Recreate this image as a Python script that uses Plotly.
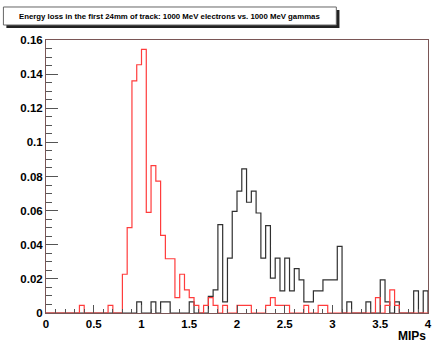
import numpy as np
import plotly.graph_objects as go

# ---- data ----
x_min, x_max, n_bins = 0.0, 4.0, 80
bin_lows = list(np.linspace(x_min, x_max, n_bins + 1)[:-1])

electrons = [
    0, 0, 0, 0, 0, 0, 0, 0.0045, 0, 0,            # 0.00-0.45
    0, 0, 0, 0.0045, 0, 0, 0.0227, 0.05, 0.136, 0.1455,   # 0.50-0.95
    0.1545, 0.059, 0.0864, 0.0773, 0.0455, 0.0318, 0.0318, 0.009, 0.0227, 0.0136,  # 1.00-1.45
    0.009, 0.0045, 0, 0.0045, 0.009, 0.0045, 0, 0.0045, 0, 0,   # 1.50-1.95
    0.0045, 0.0045, 0.0045, 0, 0, 0, 0.0045, 0.009, 0.0045, 0.0045,  # 2.00-2.45
    0.0045, 0, 0, 0, 0.0045, 0, 0, 0.0045, 0.0045, 0,   # 2.50-2.95
    0, 0, 0, 0, 0, 0, 0, 0, 0, 0.009,               # 3.00-3.45
    0, 0.0045, 0.0136, 0.0045, 0, 0, 0, 0, 0, 0,    # 3.50-3.95
]
gammas = [
    0, 0, 0, 0, 0, 0, 0, 0, 0, 0,
    0, 0, 0, 0, 0, 0, 0, 0, 0, 0.0065,
    0, 0, 0.0065, 0, 0.0065, 0.0065, 0, 0, 0, 0,
    0.0065, 0, 0, 0, 0.0097, 0.0135, 0.0518, 0.0065, 0.0322, 0.0596,
    0.0714, 0.0845, 0.0649, 0.0714, 0.0586, 0.0322, 0.0512, 0.0204, 0.0322, 0.013,
    0.0322, 0.013, 0.026, 0.0194, 0.0065, 0.0065, 0.013, 0.013, 0.0194, 0.0194,
    0.0194, 0.039, 0, 0.0065, 0, 0, 0, 0.0065, 0, 0,
    0.0194, 0.0065, 0, 0.0065, 0, 0, 0, 0.013, 0, 0.013,
]
x_tickvals = [0, 0.5, 1, 1.5, 2, 2.5, 3, 3.5, 4]
x_ticktext = ["0", "0.5", "1", "1.5", "2", "2.5", "3", "3.5", "4"]
y_tickvals = [0, 0.02, 0.04, 0.06, 0.08, 0.1, 0.12, 0.14, 0.16]
y_ticktext = ["0", "0.02", "0.04", "0.06", "0.08", "0.1", "0.12", "0.14", "0.16"]
title_text = "Energy loss in the first 24mm of track: 1000 MeV electrons vs. 1000 MeV gammas"
x_title = "MIPs"


def step_xy(vals):
    xs = [x_min] + bin_lows + [x_max, x_max]
    ys = [0] + list(vals) + [vals[-1], 0]
    return xs, ys


fig = go.Figure()
gx, gy = step_xy(gammas)
fig.add_trace(go.Scatter(x=gx, y=gy, mode="lines", line=dict(shape="hv", color="#303030", width=1.2),
                         hoverinfo="skip", showlegend=False))
ex, ey = step_xy(electrons)
fig.add_trace(go.Scatter(x=ex, y=ey, mode="lines", line=dict(shape="hv", color="#ff3c3c", width=1.2),
                         hoverinfo="skip", showlegend=False))

FONT = "Liberation Sans, Arial, sans-serif"
frame_col = "#7a5656"
tick_col = "#555555"

fig.update_layout(
    width=436, height=346,
    margin=dict(l=46, r=8, t=40, b=33),
    paper_bgcolor="white", plot_bgcolor="white",
    xaxis=dict(range=[x_min, x_max], tickmode="array", tickvals=x_tickvals, ticktext=x_ticktext,
               ticks="inside", ticklen=8, tickwidth=1, tickcolor=tick_col, automargin=False,
               minor=dict(ticks="inside", ticklen=4, tickwidth=1, tickcolor=tick_col, tick0=0, dtick=0.1),
               showgrid=False, zeroline=False, showline=True, linecolor=frame_col, linewidth=1, mirror=True,
               tickfont=dict(family=FONT, size=11.5, color="black", weight="bold")),
    yaxis=dict(range=[0, 0.16], tickmode="array", tickvals=y_tickvals, ticktext=y_ticktext,
               ticks="inside", ticklen=12, tickwidth=1, tickcolor=tick_col, automargin=False,
               minor=dict(ticks="inside", ticklen=6, tickwidth=1, tickcolor=tick_col, tick0=0, dtick=0.005),
               showgrid=False, zeroline=False, showline=True, linecolor=frame_col, linewidth=1, mirror=True,
               tickfont=dict(family=FONT, size=11.5, color="black", weight="bold")),
)

# title pave with shadow
fig.add_shape(type="rect", xref="paper", yref="paper", x0=-0.1037, x1=0.7682, y0=1.044, y1=1.1099,
              line=dict(width=0), fillcolor="#222222", layer="above")
fig.add_shape(type="rect", xref="paper", yref="paper", x0=-0.1115, x1=0.760, y0=1.0549, y1=1.1209,
              line=dict(width=1, color="#666666"), fillcolor="white", layer="above")
fig.add_annotation(text=title_text, xref="paper", yref="paper", x=0.3241, y=1.0879,
                   xanchor="center", yanchor="middle", showarrow=False,
                   font=dict(family=FONT, size=7.8, color="black", weight="bold"))
fig.add_annotation(text=x_title, xref="paper", yref="paper", x=1.0, y=-0.084,
                   xanchor="right", yanchor="middle", showarrow=False,
                   font=dict(family=FONT, size=12, color="black", weight="bold"))

fig.write_html("out.html", config={"displayModeBar": False},
               post_script="document.body.style.margin='0px';document.body.style.padding='0px';")
